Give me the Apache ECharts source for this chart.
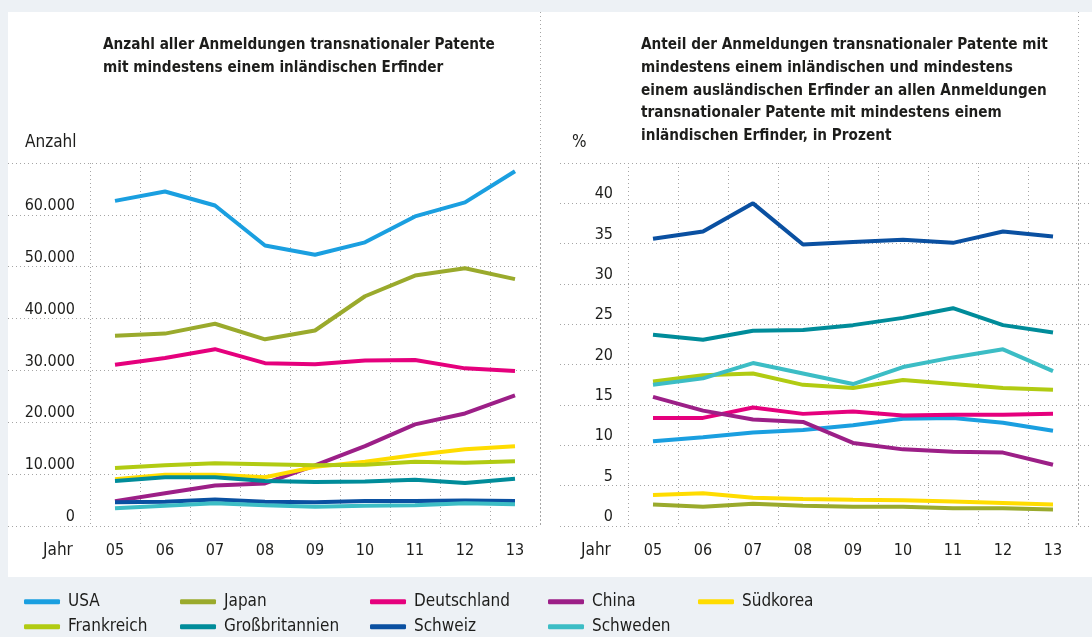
<!DOCTYPE html>
<html lang="de">
<head>
<meta charset="utf-8">
<title>Transnationale Patente</title>
<script src="https://cdn.jsdelivr.net/npm/echarts@6/dist/echarts.min.js"></script>
<style>
  html, body { margin: 0; padding: 0; background: #edf1f5; }
  #panel { position: absolute; left: 8px; top: 12px; width: 1084px; height: 565px; background: #fff; }
  #chart { position: absolute; left: 0; top: 0; width: 1092px; height: 637px; }
</style>
</head>
<body>
<div id="panel"></div>
<div id="chart"></div>
<script>
// Jahre 2005 bis 2013
const years = ["05", "06", "07", "08", "09", "10", "11", "12", "13"];

const countries = ["USA", "Japan", "Deutschland", "China", "Südkorea",
  "Frankreich", "Großbritannien", "Schweiz", "Schweden"];

// linke Grafik: Anzahl
const usaAnz = [62700, 64500, 61800, 54100, 52300, 54700, 59700, 62400, 68400];
const japanAnz = [36700, 37100, 39000, 36000, 37700, 44300, 48300, 49700, 47600];
const deAnz = [31100, 32400, 34100, 31400, 31200, 31900, 32000, 30400, 29900];
const chinaAnz = [4800, 6300, 7800, 8200, 11700, 15400, 19600, 21700, 25200];
const koreaAnz = [9000, 9900, 9900, 9400, 11400, 12400, 13700, 14800, 15400];
const frAnz = [11200, 11700, 12100, 11900, 11700, 11800, 12400, 12200, 12500];
const gbAnz = [8700, 9400, 9400, 8700, 8500, 8600, 8900, 8300, 9100];
const chAnz = [4600, 4700, 5100, 4700, 4600, 4800, 4800, 4900, 4800];
const seAnz = [3400, 3900, 4400, 4000, 3700, 3900, 4000, 4400, 4200];

// rechte Grafik: Anteil in Prozent
const usaPct = [10.5, 11.0, 11.6, 11.9, 12.5, 13.3, 13.4, 12.8, 11.8];
const japanPct = [2.65, 2.4, 2.75, 2.5, 2.4, 2.4, 2.2, 2.2, 2.05];
const dePct = [13.4, 13.4, 14.7, 13.9, 14.2, 13.7, 13.8, 13.8, 13.9];
const chinaPct = [16.0, 14.3, 13.2, 12.9, 10.3, 9.5, 9.2, 9.1, 7.6];
const koreaPct = [3.85, 4.05, 3.5, 3.35, 3.25, 3.2, 3.05, 2.85, 2.65];
const frPct = [17.9, 18.7, 18.9, 17.5, 17.1, 18.1, 17.6, 17.1, 16.9];
const gbPct = [23.7, 23.1, 24.2, 24.3, 24.9, 25.8, 27.0, 24.9, 24.0];
const chPct = [35.6, 36.5, 40.0, 34.9, 35.2, 35.5, 35.1, 36.5, 35.9];
const sePct = [17.5, 18.3, 20.2, 18.9, 17.6, 19.7, 20.9, 21.9, 19.2];

const anzahlData = [usaAnz, japanAnz, deAnz, chinaAnz, koreaAnz, frAnz, gbAnz, chAnz, seAnz];
const prozentData = [usaPct, japanPct, dePct, chinaPct, koreaPct, frPct, gbPct, chPct, sePct];

const colors = ["#1a9fe0", "#9aaa2c", "#e5007d", "#9c1f87", "#ffdc00",
  "#b1cb12", "#008c9a", "#0a50a1", "#3cbdc5"];

const FONT = '"DejaVu Sans Condensed", "DejaVu Sans", sans-serif';
const TEXT = "#1d1d1b";
const dotted = { color: "#a5a5a5", width: 1, type: [1, 3] };

const chart = echarts.init(document.getElementById("chart"));

// Tausenderpunkt
const fmtDe = (v) => String(v).replace(/\B(?=(\d{3})+(?!\d))/g, ".");

const gridTop = 163;
const gridBottom = 111;

const makeTitle = (text, left, top, extra) => ({
  text: text,
  left: left,
  top: top,
  padding: 0,
  textStyle: Object.assign({ fontFamily: FONT, fontSize: 17, fontWeight: "normal", color: TEXT, lineHeight: 20 }, extra || {})
});

const hiddenCat = { type: "category", data: years, show: false };

const catAxis = (gridIndex) => ({
  type: "category",
  gridIndex: gridIndex,
  data: years,
  boundaryGap: true,
  axisLine: { show: false },
  axisTick: { show: false },
  splitLine: { show: true, lineStyle: dotted },
  axisLabel: { color: TEXT, fontFamily: FONT, fontSize: 16, margin: 17 }
});

const bgValueAxis = (gridIndex, max, interval) => ({
  type: "value",
  gridIndex: gridIndex,
  min: 0, max: max, interval: interval,
  axisLine: { show: false },
  axisTick: { show: false },
  axisLabel: { show: false },
  splitLine: { show: true, lineStyle: dotted }
});

const valueAxis = (gridIndex, max, interval, fmt) => ({
  type: "value",
  gridIndex: gridIndex,
  min: 0, max: max, interval: interval,
  axisLine: { show: false },
  axisTick: { show: false },
  splitLine: { show: false },
  axisLabel: {
    color: TEXT, fontFamily: FONT, fontSize: 16, margin: 15,
    verticalAlign: "bottom", padding: [0, 0, 1, 0],
    showMaxLabel: false,
    formatter: fmt
  }
});

const makeSeries = (data, xi, yi) => countries.map((name, i) => ({
  name: name,
  type: "line",
  xAxisIndex: xi,
  yAxisIndex: yi,
  data: data[i],
  symbol: "none",
  smooth: false,
  lineStyle: { width: 4, color: colors[i] },
  itemStyle: { color: colors[i] },
  emphasis: { disabled: true }
}));

// Legende in Spalten
const legendCols = [
  { left: 24, data: ["USA", "Frankreich"] },
  { left: 180, data: ["Japan", "Großbritannien"] },
  { left: 370, data: ["Deutschland", "Schweiz"] },
  { left: 548, data: ["China", "Schweden"] },
  { left: 698, data: ["Südkorea"] }
];

const option = {
  animation: false,
  color: colors,
  title: [
    makeTitle("Anzahl aller Anmeldungen transnationaler Patente\nmit mindestens einem inländischen Erfinder", 103, 33.5,
      { fontWeight: "bold", fontSize: 15.2, lineHeight: 23 }),
    makeTitle("Anteil der Anmeldungen transnationaler Patente mit\nmindestens einem inländischen und mindestens\neinem ausländischen Erfinder an allen Anmeldungen\ntransnationaler Patente mit mindestens einem\ninländischen Erfinder, in Prozent", 641, 33.6,
      { fontWeight: "bold", fontSize: 15.2, lineHeight: 22.8 }),
    makeTitle("Anzahl", 25, 133),
    makeTitle("%", 572, 133),
    makeTitle("Jahr", 43, 541),
    makeTitle("Jahr", 581, 541)
  ],
  legend: legendCols.map((c) => ({
    orient: "vertical",
    left: c.left,
    top: 591.7,
    padding: 0,
    itemGap: 5,
    itemWidth: 36,
    itemHeight: 5,
    icon: "roundRect",
    data: c.data,
    textStyle: { color: TEXT, fontFamily: FONT, fontSize: 17, lineHeight: 20, padding: [0, 0, 0, 3] }
  })),
  grid: [
    { left: 8, right: 552, top: gridTop, bottom: gridBottom },
    { left: 90, right: 552, top: gridTop, bottom: gridBottom },
    { left: 560, right: 0, top: gridTop, bottom: gridBottom },
    { left: 628, right: 14, top: gridTop, bottom: gridBottom }
  ],
  xAxis: [
    Object.assign({ gridIndex: 0 }, hiddenCat),
    catAxis(1),
    Object.assign({ gridIndex: 2 }, hiddenCat),
    catAxis(3)
  ],
  yAxis: [
    bgValueAxis(0, 70000, 10000),
    valueAxis(1, 70000, 10000, fmtDe),
    bgValueAxis(2, 45, 5),
    valueAxis(3, 45, 5, (v) => String(v))
  ],
  graphic: [
    { type: "line", silent: true, shape: { x1: 540.5, y1: 12, x2: 540.5, y2: 526 }, style: { stroke: "#a5a5a5", lineWidth: 1, lineDash: [1, 3] } },
    { type: "line", silent: true, shape: { x1: 1078.5, y1: 12, x2: 1078.5, y2: 526 }, style: { stroke: "#a5a5a5", lineWidth: 1, lineDash: [1, 3] } }
  ],
  series: makeSeries(anzahlData, 1, 1).concat(makeSeries(prozentData, 3, 3))
};

chart.setOption(option);

window.addEventListener("resize", () => chart.resize());
</script>
</body>
</html>
